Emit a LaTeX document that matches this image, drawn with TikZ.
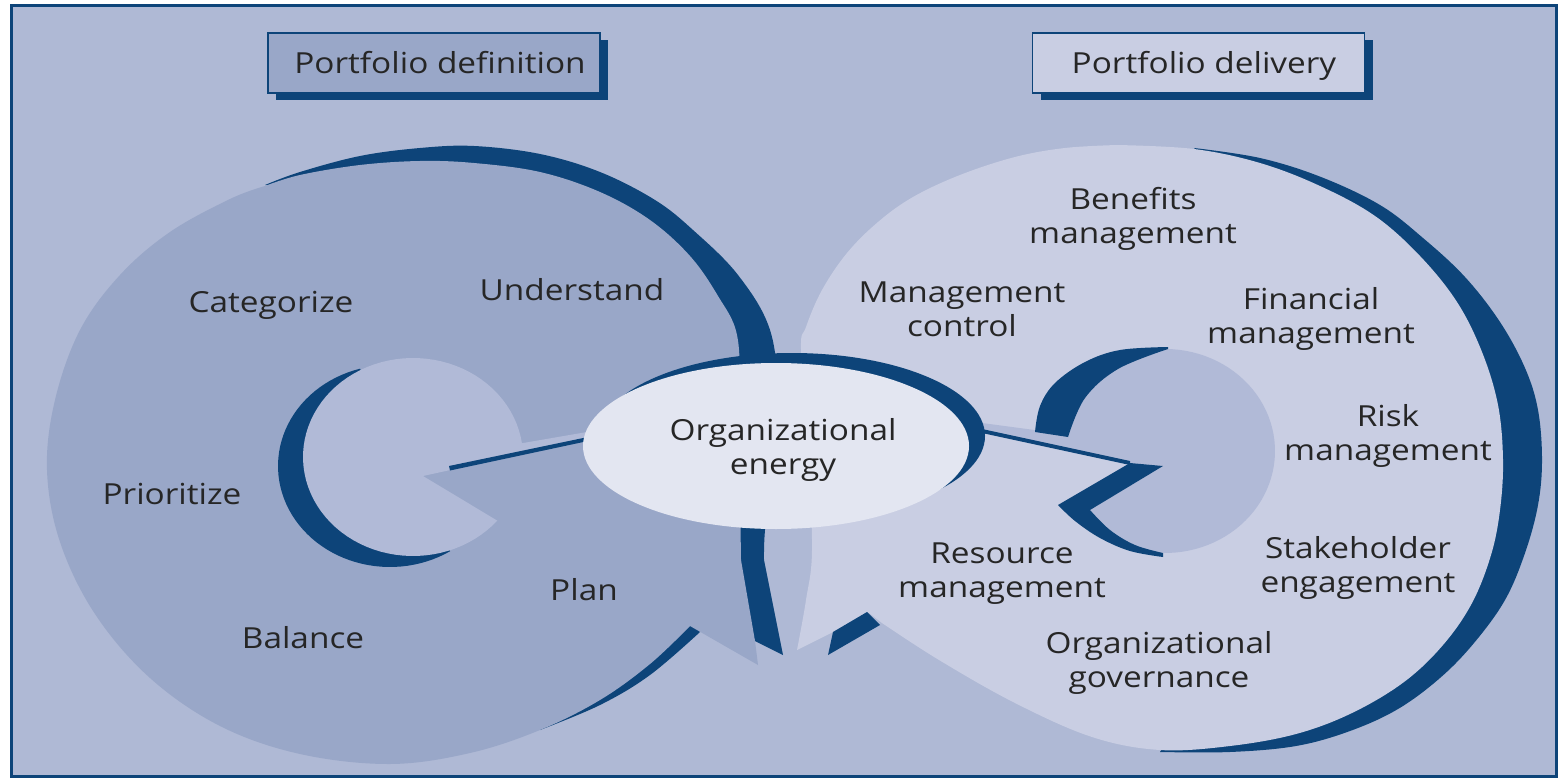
\documentclass[tikz,border=0pt]{standalone}
\usepackage{fontspec}
\setmainfont{Open Sans}
\usepackage{graphicx}
\definecolor{framebg}{HTML}{AFB9D5}
\definecolor{navy}{HTML}{0D4479}
\definecolor{defblue}{HTML}{99A7C8}
\definecolor{delblue}{HTML}{C9CEE3}
\definecolor{hubblue}{HTML}{B1BAD7}
\definecolor{coreblue}{HTML}{E3E6F1}
\definecolor{ink}{HTML}{262626}
\newcommand\widetext[1]{\scalebox{1.15}[1]{#1}}
\begin{document}
\begin{tikzpicture}[x=1pt,y=-1pt,
  lbl/.style={font=\fontsize{29}{34}\selectfont, text=ink, align=center, inner sep=0pt},
  titlebox/.style={draw=navy, line width=1.5pt, minimum width=332pt, minimum height=60pt, inner sep=0pt},
  shadowbox/.style={fill=navy, minimum width=332pt, minimum height=60pt, inner sep=0pt},
]
\useasboundingbox (0,0) rectangle (1562,778);
\fill[white] (0,0) rectangle (1562,778);
% frame
\fill[framebg] (11.5,6) rectangle (1556,776.5);
\draw[navy, line width=3pt] (11.5,6) rectangle (1556,776.5);

% ---------- definition cycle (left) ----------
% outer crescent and its lower band
\fill[navy] plot[smooth, tension=0.6] coordinates {(265,185) (300,172) (360,156) (420,148) (474,146) (540,154) (600,172) (655,200) (693,230) (738,275) (770,330) (778,400) (772,470) (765,530) (764,560)}
  -- (783,655) -- (755,641) -- (700,500) -- (600,300) -- (400,200) -- cycle;
% thin lower crescent
\fill[navy] plot[smooth, tension=0.6] coordinates {(540,730) (600,705) (650,675) (700,632)}
  -- (690,620) -- (600,690) -- (540,727) -- cycle;
% body with arrow tip
\fill[defblue] plot[smooth, tension=0.6] coordinates {(265,186) (300,175) (360,165) (420,161) (474,163) (540,172) (600,192) (650,220) (690,256) (718,296) (737,335) (740,400) (740,480) (741,560)}
  -- (755,641) -- (758,665) -- (690,626)
  -- plot[smooth, tension=0.6] coordinates {(690,626) (650,664) (600,700) (540,730) (470,753) (390,764) (300,754) (220,726) (150,678) (95,614) (60,542) (47,470) (55,400) (80,330) (120,275) (170,232) (230,199) (265,186)}
  -- cycle;

% ---------- delivery cycle (right) ----------
\fill[navy] plot[smooth, tension=0.6] coordinates {(1194,148) (1260,158) (1321,177) (1380,205) (1423,238) (1465,277) (1500,322) (1525,368) (1538,410) (1542,460) (1538,505) (1525,553) (1505,600) (1474,643) (1440,678) (1398,709) (1350,731) (1296,746) (1230,752) (1160,752)}
  -- (1250,600) -- (1400,450) -- (1300,250) -- cycle;
\fill[delblue] plot[smooth, tension=0.6] coordinates {(1117,145) (1194,149) (1260,163) (1320,186) (1375,216) (1420,256) (1457,302) (1482,352) (1498,405) (1503,460) (1500,510) (1491,555) (1472,603) (1443,645) (1404,682) (1352,713) (1296,734) (1230,746) (1160,750) (1092,737) (1015,703) (939,660) (882,623)}
  -- (869,613) -- (833,632) -- (797,650)
  -- plot[smooth, tension=0.6] coordinates {(797,650) (806,600) (812,550) (808,450) (801,350) (806,327) (822,290) (847,253) (878,222) (913,197) (960,175) (1015,157) (1065,148) (1117,145)}
  -- cycle;
\fill[navy] (833,632) -- (867,612) -- (880,625) -- (828,655) -- cycle;

% ---------- inner hub, left ----------
\fill[navy] plot[domain=57.6:254.5, samples=60] ({390+112*cos(\x)},{466+101*sin(\x)}) -- cycle;
\fill[hubblue] (423,476) -- plot[domain=40:352, samples=80] ({413+110*cos(\x)},{457+99*sin(\x)})
  -- (587,432) -- (587,440) -- cycle;
\fill[navy] (449,466) -- (588,437) -- (588,441) -- (450,470.5) -- cycle;

% ---------- inner hub, right ----------
\fill[hubblue] (1163,466) -- (1130,463) -- (982,431) -- (982,423) -- (1057,433)
  -- plot[domain=190.2:500.5, samples=90] ({1165+110*cos(\x)},{451+102*sin(\x)}) -- cycle;
\fill[navy] plot[smooth, tension=0.6] coordinates {(1035,432) (1040,406) (1055,383) (1085,362) (1120,350) (1168,347)}
  -- plot[smooth, tension=0.6] coordinates {(1168,349) (1118,369) (1085,398) (1068,437)} -- cycle;
\fill[navy] (1130,463) -- (1163,466) -- (1090,510)
  -- plot[smooth, tension=0.6] coordinates {(1090,510) (1110,530) (1135,545) (1163,553)}
  -- plot[smooth, tension=0.6] coordinates {(1163,557) (1130,551) (1100,538) (1075,521) (1058,505)} -- cycle;
\fill[navy] (982,429) -- (1130,461) -- (1130,465) -- (982,433) -- cycle;

% ---------- core ----------
\fill[navy] (792,436) ellipse[x radius=193, y radius=83];
\fill[coreblue] (776,446) ellipse[x radius=193, y radius=83];
\node[lbl] (core) at (783,449.5) {\widetext{Organizational}\\\widetext{energy}};

% ---------- titles ----------
\node[shadowbox] (defshadow) at (442,70) {};
\node[titlebox, fill=defblue] (defbox) at (434,63) {};
\node[lbl, anchor=base] (deftitle) at (440,74) {\widetext{Portfolio definition}};
\node[shadowbox] (delshadow) at (1206.5,70) {};
\node[titlebox, fill=delblue] (delbox) at (1198.5,63) {};
\node[lbl, anchor=base] (deltitle) at (1204,74) {\widetext{Portfolio delivery}};

% ---------- definition activities ----------
\node[lbl, anchor=base] (categorize) at (271,312) {\widetext{Categorize}};
\node[lbl, anchor=base] (understand) at (572,300) {\widetext{Understand}};
\node[lbl, anchor=base] (prioritize) at (172,504) {\widetext{Prioritize}};
\node[lbl, anchor=base] (balance) at (303,648) {\widetext{Balance}};
\node[lbl, anchor=base] (plan) at (584,600) {\widetext{Plan}};

% ---------- delivery practices ----------
\node[lbl] (benefits) at (1133,218.5) {\widetext{Benefits}\\\widetext{management}};
\node[lbl] (control) at (962,309.7) {\widetext{Management}\\\widetext{control}};
\node[lbl] (financial) at (1311,318.5) {\widetext{Financial}\\\widetext{management}};
\node[lbl] (risk) at (1388,435.5) {\widetext{Risk}\\\widetext{management}};
\node[lbl] (resource) at (1002,574) {\widetext{Resource}\\\widetext{management}};
\node[lbl] (stakeholder) at (1358,567.5) {\widetext{Stakeholder}\\\widetext{engagement}};
\node[lbl] (governance) at (1159,662.5) {\widetext{Organizational}\\\widetext{governance}};
\end{tikzpicture}
\end{document}
